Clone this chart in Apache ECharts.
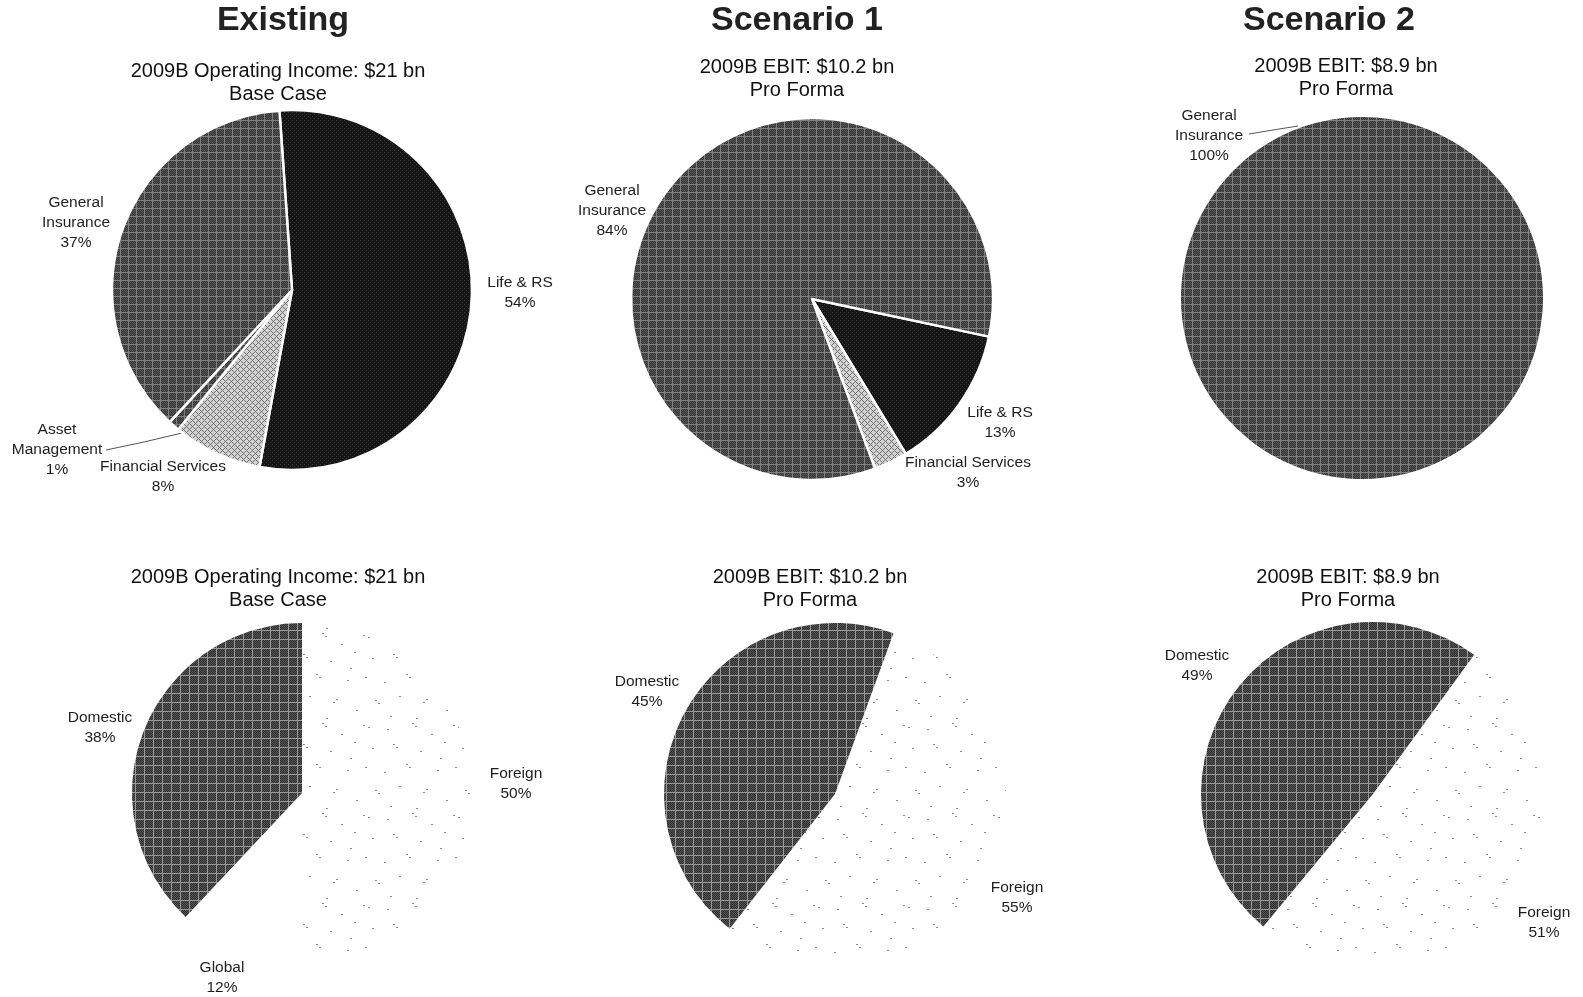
<!DOCTYPE html>
<html>
<head>
<meta charset="utf-8">
<title>2009B income split - Existing vs scenarios</title>
<script src="https://cdn.jsdelivr.net/npm/echarts@6.0.0/dist/echarts.min.js"></script>
<style>
html, body { margin: 0; padding: 0; background: #fff; }
#pieBox { width: 1583px; height: 997px; }
</style>
</head>
<body>
<div id="pieBox"></div>
<script>
// ---- data (shares in %) ----
// top row: by business segment, listed clockwise
const existingSegments = ['Life & RS', 'Financial Services', 'Asset Management', 'General Insurance'];
const existingSegmentValues = [54, 8, 1, 37];
const scenario1Segments = ['Life & RS', 'Financial Services', 'General Insurance'];
const scenario1SegmentValues = [13, 3, 84];
const scenario2Segments = ['General Insurance'];
const scenario2SegmentValues = [100];
// bottom row: by geography
const existingRegions = ['Foreign', 'Global', 'Domestic'];
const existingRegionValues = [50, 12, 38];
const scenario1Regions = ['Foreign', 'Domestic'];
const scenario1RegionValues = [55, 45];
const scenario2Regions = ['Foreign', 'Domestic'];
const scenario2RegionValues = [51, 49];

const columnTitles = ['Existing', 'Scenario 1', 'Scenario 2'];
const chartTitles = [
    '2009B Operating Income: $21 bn\nBase Case',
    '2009B EBIT: $10.2 bn\nPro Forma',
    '2009B EBIT: $8.9 bn\nPro Forma'
];

const FONT = '"Liberation Sans", Arial, Helvetica, sans-serif';

// ---- hatch textures (patent drawing look) ----
function makeTile(w, h, draw) {
    const c = document.createElement('canvas');
    c.width = w;
    c.height = h;
    draw(c.getContext('2d'));
    return { image: c, repeat: 'repeat' };
}
const texGeneral = makeTile(8, 8, function (ctx) {
    ctx.fillStyle = '#333';
    ctx.fillRect(0, 0, 8, 8);
    ctx.fillStyle = '#575757';
    for (let y = 1; y < 8; y++) for (let x = 1; x < 8; x++) if ((x + y) % 2 === 0) ctx.fillRect(x, y, 1, 1);
    ctx.fillStyle = '#808080';
    ctx.fillRect(0, 0, 8, 1);
    ctx.fillRect(0, 0, 1, 8);
});
const texLife = makeTile(4, 4, function (ctx) {
    ctx.fillStyle = '#151515';
    ctx.fillRect(0, 0, 4, 4);
    ctx.fillStyle = '#3a3a3a';
    ctx.fillRect(0, 0, 1, 1);
    ctx.fillRect(2, 2, 1, 1);
});
const texFinancial = makeTile(6, 6, function (ctx) {
    ctx.fillStyle = '#d2d2d2';
    ctx.fillRect(0, 0, 6, 6);
    ctx.fillStyle = '#707070';
    for (let y = 0; y < 6; y++) for (let x = 0; x < 6; x++) {
        if ((x + y) % 6 === 0 || (x - y + 6) % 6 === 0) ctx.fillRect(x, y, 1, 1);
    }
});
const texDomestic = makeTile(9, 9, function (ctx) {
    ctx.fillStyle = '#2e2e2e';
    ctx.fillRect(0, 0, 9, 9);
    ctx.fillStyle = '#555';
    for (let y = 1; y < 9; y++) for (let x = 1; x < 9; x++) if ((x + y) % 2 === 0) ctx.fillRect(x, y, 1, 1);
    ctx.fillStyle = '#999';
    ctx.fillRect(0, 0, 9, 1);
    ctx.fillRect(0, 0, 1, 9);
});
// sparse specks on white
const texForeign = makeTile(90, 90, function (ctx) {
    ctx.fillStyle = '#fff';
    ctx.fillRect(0, 0, 90, 90);
    ctx.fillStyle = '#8a8a8a';
    const marks = [[3, 5], [8, 7], [27, 9], [52, 3], [55, 6], [71, 14], [12, 28], [33, 24], [36, 27],
                   [60, 31], [84, 22], [5, 47], [24, 52], [46, 44], [49, 47], [77, 50], [15, 70],
                   [18, 73], [39, 66], [63, 72], [66, 69], [86, 80], [30, 86], [56, 88], [80, 38]];
    marks.forEach(function (m) { ctx.fillRect(m[0], m[1], 2, 1); });
});

const textures = {
    'Life & RS': texLife,
    'Financial Services': texFinancial,
    'Asset Management': texGeneral,
    'General Insurance': texGeneral,
    'Domestic': texDomestic,
    'Foreign': texForeign,
    'Global': '#fff'
};

// ---- label placement (per series, per slice) ----
const labelSpots = [
    [[520, 293], [163, 477], [57, 450], [76, 223]],
    [[1000, 423], [968, 473], [612, 211]],
    [[1209, 136]],
    [[516, 784], [222, 978], [100, 728]],
    [[1017, 898], [647, 692]],
    [[1544, 923], [1197, 666]]
];
const leaderLines = {
    '0-2': [[182, 433], [144, 442], [106, 450]],
    '2-0': [[1298, 126], [1273, 130], [1249, 134]]
};
const wrapNames = { 'General Insurance': 'General\nInsurance', 'Asset Management': 'Asset\nManagement' };

function pieSeries(idx, names, values, center, radius, startAngle, border) {
    return {
        type: 'pie',
        center: center,
        radius: radius,
        startAngle: startAngle,
        clockwise: true,
        avoidLabelOverlap: false,
        silent: true,
        animation: false,
        itemStyle: { borderColor: '#fff', borderWidth: border },
        label: {
            show: true,
            position: 'outside',
            fontFamily: FONT,
            fontSize: 15.5,
            lineHeight: 20,
            color: '#1e1e1e',
            formatter: function (p) {
                return (wrapNames[p.name] || p.name) + '\n' + Math.round(p.percent) + '%';
            }
        },
        labelLine: { show: false },
        labelLayout: function (p) {
            const spot = labelSpots[p.seriesIndex][p.dataIndex];
            const out = { x: spot[0], y: spot[1], align: 'center', verticalAlign: 'middle' };
            const line = leaderLines[p.seriesIndex + '-' + p.dataIndex];
            if (line) out.labelLinePoints = line;
            return out;
        },
        data: names.map(function (n, i) {
            const item = { name: n, value: values[i], itemStyle: { color: textures[n] } };
            if (leaderLines[idx + '-' + i]) {
                item.labelLine = { show: true, lineStyle: { color: '#555', width: 1 } };
            }
            return item;
        })
    };
}

const colX = [283, 797, 1329];
const subX = [[278, 797, 1346], [278, 810, 1348]];
const subY = [[70, 66, 65], [576, 576, 576]];

const graphics = [];
columnTitles.forEach(function (t, i) {
    graphics.push({
        type: 'text', x: colX[i], y: 21,
        style: { text: t, align: 'center', verticalAlign: 'middle', font: 'bold 34px ' + FONT, fill: '#222' }
    });
});
for (let row = 0; row < 2; row++) {
    chartTitles.forEach(function (t, i) {
        graphics.push({
            type: 'text', x: subX[row][i], y: subY[row][i] - 10,
            style: { text: t, align: 'center', verticalAlign: 'top', font: '20px ' + FONT, lineHeight: 23, fill: '#111' }
        });
    });
}

const myChart = echarts.init(document.getElementById('pieBox'), null, { renderer: 'canvas' });
const option = {
    backgroundColor: '#fff',
    animation: false,
    graphic: graphics,
    series: [
        pieSeries(0, existingSegments, existingSegmentValues, [292, 290], 180, 94, 2.5),
        pieSeries(1, scenario1Segments, scenario1SegmentValues, [812, 299], 181, -12, 2.5),
        pieSeries(2, scenario2Segments, scenario2SegmentValues, [1362, 298], 181, -72, 0),
        pieSeries(3, existingRegions, existingRegionValues, [302, 793], 170, 90, 0),
        pieSeries(4, scenario1Regions, scenario1RegionValues, [835, 794], 171, 70, 0),
        pieSeries(5, scenario2Regions, scenario2RegionValues, [1373, 794], 172, 54, 0)
    ]
};
myChart.setOption(option);
</script>
</body>
</html>
